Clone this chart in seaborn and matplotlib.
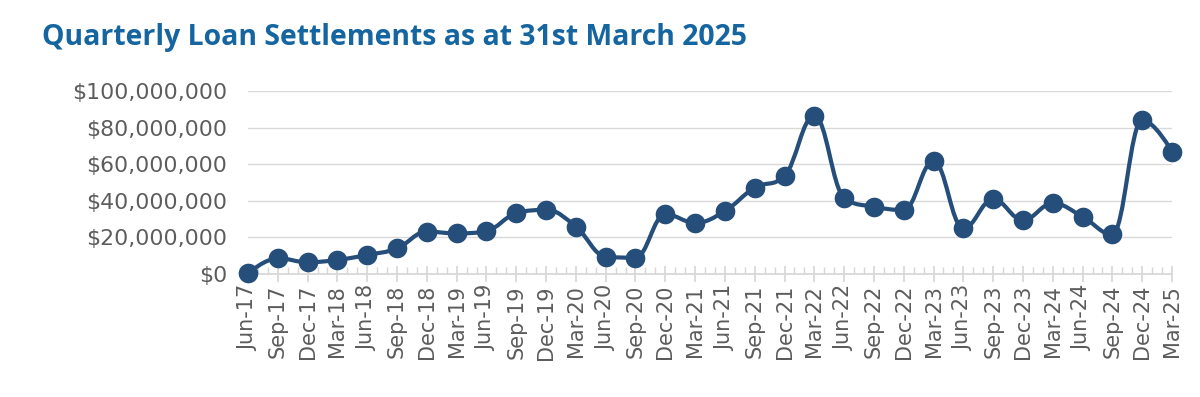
import numpy as np
import pandas as pd
import matplotlib
matplotlib.use("Agg")
import matplotlib.pyplot as plt
import seaborn as sns
from matplotlib.path import Path
from matplotlib.patches import PathPatch
from matplotlib.ticker import FuncFormatter, MultipleLocator

quarters = ["Jun-17", "Sep-17", "Dec-17", "Mar-18", "Jun-18", "Sep-18", "Dec-18", "Mar-19",
            "Jun-19", "Sep-19", "Dec-19", "Mar-20", "Jun-20", "Sep-20", "Dec-20", "Mar-21",
            "Jun-21", "Sep-21", "Dec-21", "Mar-22", "Jun-22", "Sep-22", "Dec-22", "Mar-23",
            "Jun-23", "Sep-23", "Dec-23", "Mar-24", "Jun-24", "Sep-24", "Dec-24", "Mar-25"]
settlements_m = [0.5, 8.6, 6.4, 7.7, 10.4, 14.0, 23.1, 22.2,
                 23.5, 33.2, 35.0, 25.9, 9.5, 8.9, 32.6, 28.0,
                 34.4, 47.2, 53.6, 86.5, 41.7, 36.8, 35.0, 61.7,
                 25.0, 40.8, 29.5, 38.6, 31.3, 21.7, 84.2, 66.8]
yticks_m = [0, 20, 40, 60, 80, 100]

df = pd.DataFrame({"quarter": quarters, "value": np.array(settlements_m) * 1e6})
df["pos"] = np.arange(len(df))

LINE = "#254e7b"
TITLE = "#1565a0"
TXT = "#5c5c5c"

sns.set_theme(style="white")
plt.rcParams["font.family"] = ["DejaVu Sans"]

fig = plt.figure(figsize=(12, 3.97), dpi=100)
ax = fig.add_axes([248 / 1200, 1 - 274 / 397, (1172 - 248) / 1200, (274 - 91) / 397])


def spline_path(xs, ys, smoothing=1.5):
    n = len(xs)
    denom = smoothing + 1
    lc = [(x, y) for x, y in zip(xs, ys)]
    rc = [(x, y) for x, y in zip(xs, ys)]
    for i in range(1, n - 1):
        px, py = xs[i], ys[i]
        lx, ly = xs[i - 1], ys[i - 1]
        nx, ny = xs[i + 1], ys[i + 1]
        lcx = (smoothing * px + lx) / denom
        lcy = (smoothing * py + ly) / denom
        rcx = (smoothing * px + nx) / denom
        rcy = (smoothing * py + ny) / denom
        corr = ((rcy - lcy) * (rcx - px)) / (rcx - lcx) + py - rcy
        lcy += corr
        rcy += corr
        if lcy > ly and lcy > py:
            lcy = max(ly, py); rcy = 2 * py - lcy
        elif lcy < ly and lcy < py:
            lcy = min(ly, py); rcy = 2 * py - lcy
        if rcy > ny and rcy > py:
            rcy = max(ny, py); lcy = 2 * py - rcy
        elif rcy < ny and rcy < py:
            rcy = min(ny, py); lcy = 2 * py - rcy
        lc[i] = (lcx, lcy)
        rc[i] = (rcx, rcy)
    verts = [(xs[0], ys[0])]
    codes = [Path.MOVETO]
    for i in range(1, n):
        verts += [rc[i - 1], lc[i], (xs[i], ys[i])]
        codes += [Path.CURVE4] * 3
    return Path(verts, codes)


ax.add_patch(PathPatch(spline_path(df["pos"].values.astype(float), df["value"].values.astype(float)),
                       facecolor="none", edgecolor=LINE, lw=3.0, zorder=3, capstyle="round",
                       joinstyle="round", clip_on=False))
sns.scatterplot(data=df, x="pos", y="value", ax=ax, s=200, color=LINE, edgecolor=LINE,
                linewidth=0, zorder=4, clip_on=False, legend=False)

ax.set_xlim(0, len(quarters) - 1)
ax.set_ylim(0, 100e6)
ax.set_yticks([v * 1e6 for v in yticks_m])
ax.yaxis.set_major_formatter(FuncFormatter(lambda v, p: f"${v:,.0f}"))
ax.set_xticks(df["pos"])
ax.set_xticklabels(quarters, rotation=90)
ax.xaxis.set_minor_locator(MultipleLocator(1 / 3))
ax.grid(axis="y", color="#d9d9d9", lw=1)
ax.grid(axis="x", visible=False)
for s in ["top", "right", "left"]:
    ax.spines[s].set_visible(False)
ax.spines["bottom"].set_color("#d6d6d6")
ax.spines["bottom"].set_linewidth(1.2)
ax.tick_params(axis="x", which="major", direction="inout", length=12, width=1.2,
               color="#d6d6d6", labelsize=15, labelcolor=TXT, pad=2, bottom=True)
ax.tick_params(axis="x", which="minor", direction="in", length=5, width=1,
               color="#d6d6d6", bottom=True)
ax.tick_params(axis="y", length=0, labelsize=15.8, labelcolor=TXT, pad=15)
ax.set_xlabel("")
ax.set_ylabel("")

fig.text(42 / 1200, 1 - 38 / 397, "Quarterly Loan Settlements as at 31st March 2025",
         fontsize=20.4, fontweight="bold", color=TITLE, va="center", ha="left",
         family=["Open Sans", "DejaVu Sans"])

fig.savefig("out.png", dpi=100)
